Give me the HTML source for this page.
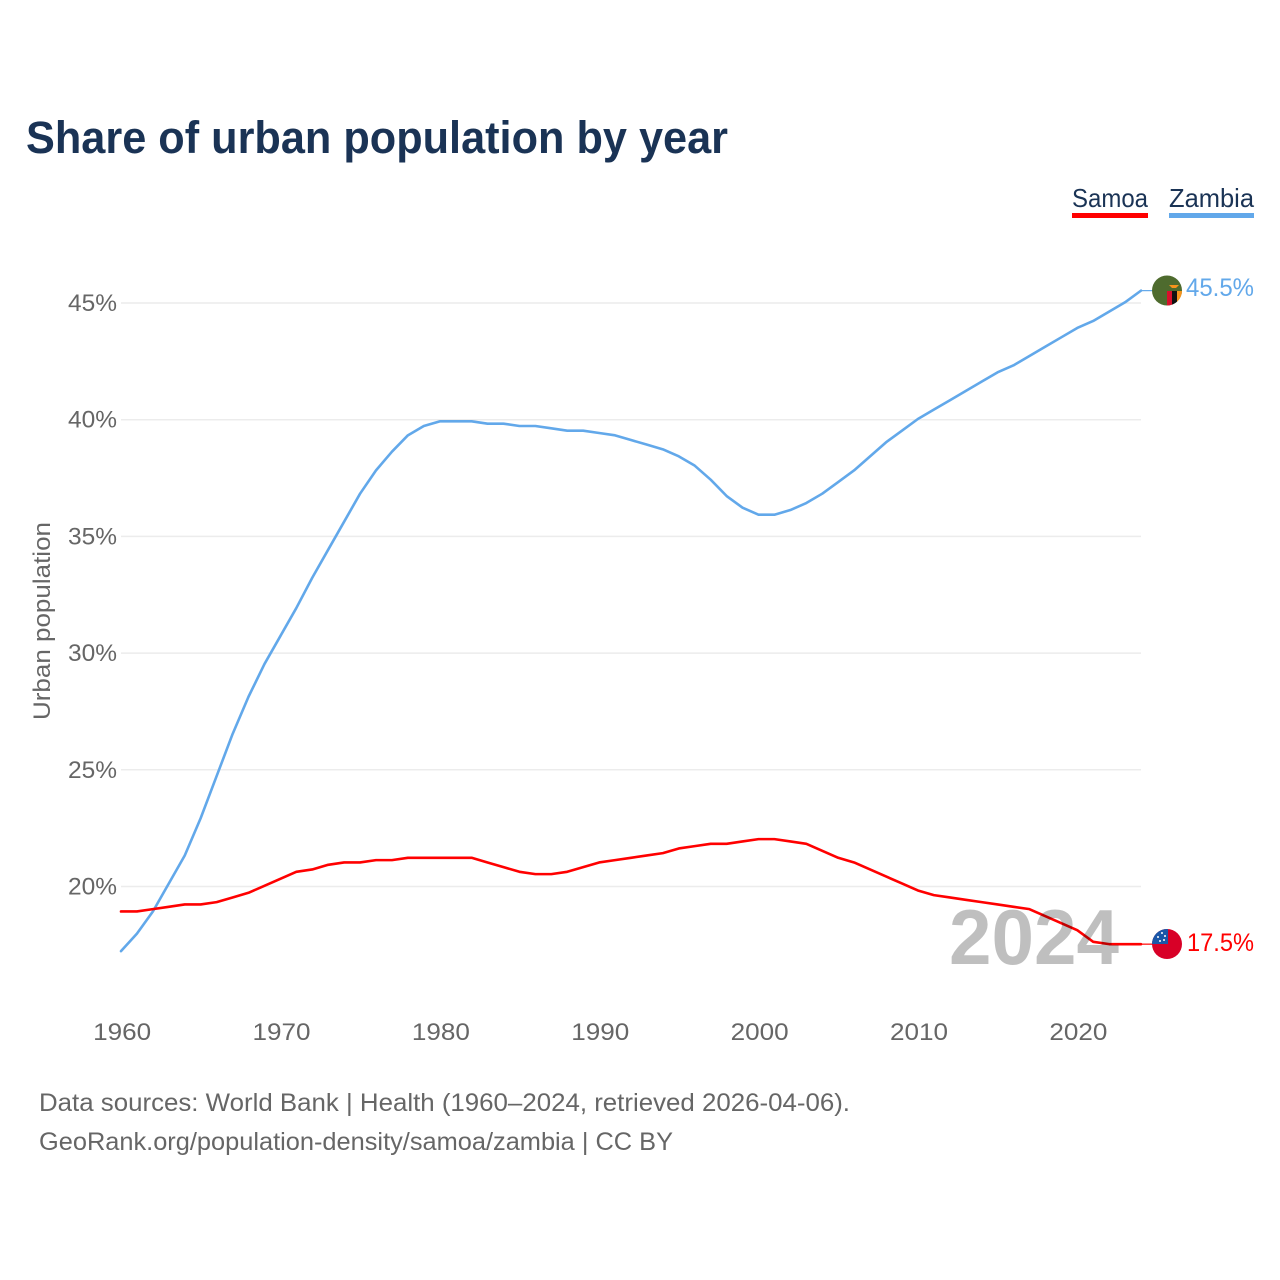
<!DOCTYPE html>
<html lang="en">
<head>
<meta charset="utf-8">
<title>Share of urban population by year</title>
<style>
html,body{margin:0;padding:0;background:#fff;width:1280px;height:1280px;overflow:hidden}
svg{display:block;font-family:"Liberation Sans",sans-serif}
</style>
</head>
<body>
<svg id="chart" width="1280" height="1280" viewBox="0 0 1280 1280" xmlns="http://www.w3.org/2000/svg">
  <rect width="1280" height="1280" fill="#fff"/>
  <text x="26" y="153" font-size="45" font-weight="700" fill="#1a3355" textLength="702" lengthAdjust="spacingAndGlyphs">Share of urban population by year</text>
  <g>
    <g>
      <text x="1072" y="207" font-size="26" fill="#1a3355" textLength="76" lengthAdjust="spacingAndGlyphs">Samoa</text>
      <rect x="1072" y="213" width="76" height="5" fill="#ff0000"/>
    </g>
    <g>
      <text x="1169" y="207" font-size="26" fill="#1a3355" textLength="85" lengthAdjust="spacingAndGlyphs">Zambia</text>
      <rect x="1169" y="213" width="85" height="5" fill="#62a8ea"/>
    </g>
  </g>
  <text transform="translate(50,621) rotate(-90)" text-anchor="middle" font-size="24" fill="#666" textLength="198" lengthAdjust="spacingAndGlyphs">Urban population</text>
  <g id="grid"></g>
  <g id="yticks"></g>
  <g id="xticks"></g>
  <g id="series"></g>
  <text x="949" y="964" font-size="78" font-weight="700" fill="#000" fill-opacity="0.25" textLength="170" lengthAdjust="spacingAndGlyphs">2024</text>

  <g id="flag-zambia">
    <clipPath id="clip-zm"><circle cx="1167" cy="290.5" r="15"/></clipPath>
    <g clip-path="url(#clip-zm)">
      <rect x="1152" y="275" width="30" height="31" fill="#4e6b2e"/>
      <rect x="1167" y="291" width="5" height="15" fill="#d8102c"/>
      <rect x="1172" y="291" width="5" height="15" fill="#111"/>
      <rect x="1177" y="291" width="5" height="15" fill="#f7941d"/>
      <path d="M1169 285h10l-3 3h-4z" fill="#f7941d"/>
    </g>
  </g>
  <g id="flag-samoa">
    <clipPath id="clip-ws"><circle cx="1167" cy="944" r="15"/></clipPath>
    <g clip-path="url(#clip-ws)">
      <rect x="1152" y="929" width="30" height="30" fill="#d80027"/>
      <rect x="1152" y="929" width="16" height="15" fill="#1a57a8"/>
      <circle cx="1162" cy="933" r="1" fill="#fff"/>
      <circle cx="1158" cy="937" r="1" fill="#fff"/>
      <circle cx="1165" cy="936" r="1" fill="#fff"/>
      <circle cx="1160" cy="941" r="1" fill="#fff"/>
      <circle cx="1164" cy="940" r="1" fill="#fff"/>
    </g>
  </g>
  <text id="end-zambia" x="1186" y="296" font-size="25" fill="#62a8ea" textLength="68" lengthAdjust="spacingAndGlyphs">45.5%</text>
  <text id="end-samoa" x="1187" y="951" font-size="25" fill="#ff0000" textLength="67" lengthAdjust="spacingAndGlyphs">17.5%</text>
  <text x="39" y="1111" font-size="25" fill="#666" textLength="811" lengthAdjust="spacingAndGlyphs">Data sources: World Bank | Health (1960–2024, retrieved 2026-04-06).</text>
  <text x="39" y="1150" font-size="25" fill="#666" textLength="634" lengthAdjust="spacingAndGlyphs">GeoRank.org/population-density/samoa/zambia | CC BY</text>
</svg>
<script>
const startYear = 1960;
const xTickYears = [1960, 1970, 1980, 1990, 2000, 2010, 2020];
const yTickValues = [20, 25, 30, 35, 40, 45];
const zambiaValues = [17.2,17.95,18.9,20.1,21.3,22.9,24.7,26.5,28.1,29.5,30.7,31.9,33.2,34.4,35.6,36.8,37.8,38.6,39.3,39.7,39.9,39.9,39.9,39.8,39.8,39.7,39.7,39.6,39.5,39.5,39.4,39.3,39.1,38.9,38.7,38.4,38.0,37.4,36.7,36.2,35.9,35.9,36.1,36.4,36.8,37.3,37.8,38.4,39.0,39.5,40.0,40.4,40.8,41.2,41.6,42.0,42.3,42.7,43.1,43.5,43.9,44.2,44.6,45.0,45.5];
const samoaValues = [18.9,18.9,19.0,19.1,19.2,19.2,19.3,19.5,19.7,20.0,20.3,20.6,20.7,20.9,21.0,21.0,21.1,21.1,21.2,21.2,21.2,21.2,21.2,21.0,20.8,20.6,20.5,20.5,20.6,20.8,21.0,21.1,21.2,21.3,21.4,21.6,21.7,21.8,21.8,21.9,22.0,22.0,21.9,21.8,21.5,21.2,21.0,20.7,20.4,20.1,19.8,19.6,19.5,19.4,19.3,19.2,19.1,19.0,18.7,18.4,18.1,17.6,17.5,17.5,17.5];

const NS = 'http://www.w3.org/2000/svg';
const xScale = function (year) { return 121 + (year - 1960) * (1020 / 64); };
const yScale = function (v) { return 303 + (45 - v) * 23.34; };
const lineScale = function (v) { return yScale(v) - 0.7; };

function make(tag, attrs, parent, text) {
  const el = document.createElementNS(NS, tag);
  Object.keys(attrs).forEach(function (k) { el.setAttribute(k, attrs[k]); });
  if (text !== undefined) el.textContent = text;
  parent.appendChild(el);
  return el;
}

const grid = document.getElementById('grid');
const yticks = document.getElementById('yticks');
const xticks = document.getElementById('xticks');
const series = document.getElementById('series');

yTickValues.forEach(function (v) {
  const line = make('line', { x1: 121, x2: 1141, y1: yScale(v), y2: yScale(v), stroke: '#ececec', 'stroke-width': 1.5 }, grid);
  
  
  const label = make('text', { x: 117, y: yScale(v) + 8, 'text-anchor': 'end', 'font-size': 24, fill: '#666', textLength: 49, lengthAdjust: 'spacingAndGlyphs' }, yticks, v + '%');
  
  
});

xTickYears.forEach(function (year) {
  const label = make('text', { x: xScale(year) + 1.2, y: 1040, 'text-anchor': 'middle', 'font-size': 24, fill: '#666', textLength: 58, lengthAdjust: 'spacingAndGlyphs' }, xticks, String(year));
  
  
});

function drawSeries(values, color, name) {
  const pts = values.map(function (v, i) { return xScale(startYear + i).toFixed(2) + ',' + lineScale(v).toFixed(2); });
  const line = make('polyline', { points: pts.join(' '), fill: 'none', stroke: color, 'stroke-width': 2.6, 'stroke-linejoin': 'round', 'stroke-linecap': 'round' }, series);
  
  
  const last = values[values.length - 1];
  const lastX = xScale(startYear + values.length - 1);
  const lead = make('line', { x1: lastX, x2: lastX + 12, y1: lineScale(last), y2: lineScale(last), stroke: color, 'stroke-width': 1.2 }, series);
  
  
}
drawSeries(zambiaValues, '#62a8ea', 'zambia-line');
drawSeries(samoaValues, '#ff0000', 'samoa-line');

document.getElementById('end-zambia').textContent = zambiaValues[zambiaValues.length - 1].toFixed(1) + '%';
document.getElementById('end-samoa').textContent = samoaValues[samoaValues.length - 1].toFixed(1) + '%';
</script>
</body>
</html>
